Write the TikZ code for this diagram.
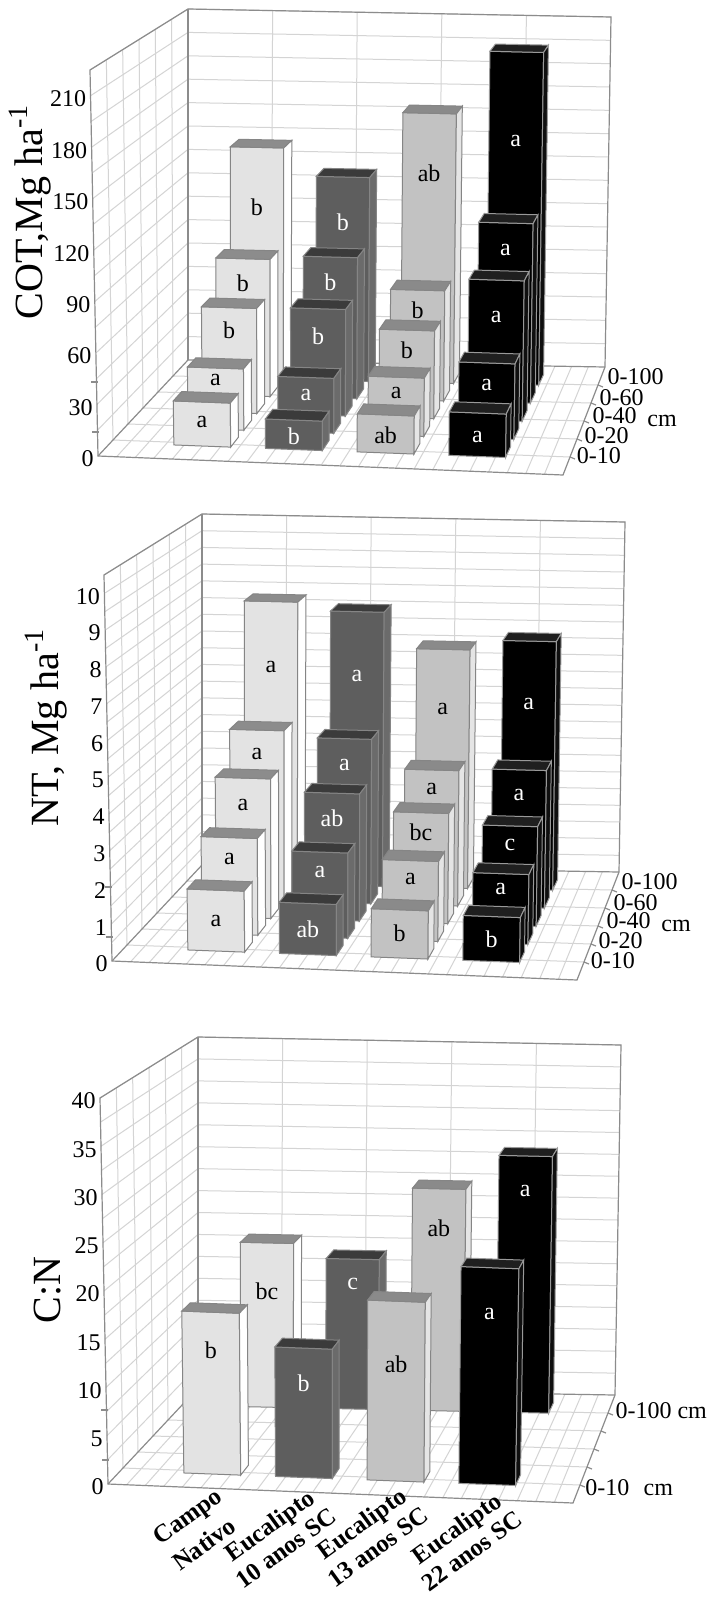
\documentclass[tikz,border=0pt]{standalone}
\usepackage{fontspec}
\setmainfont{Liberation Serif}
% box coordinates: u = across, v = depth, w = value (scaled by \vmax)
\makeatletter
\def\bx@split#1/#2/#3\@nil{\def\bx@u{#1}\def\bx@v{#2}\def\bx@w{#3}}
\tikzdeclarecoordinatesystem{bx}{%
  \bx@split#1\@nil
  \pgfmathsetmacro\bx@U{\bx@u}%
  \pgfmathsetmacro\bx@V{\bx@v}%
  \pgfmathsetmacro\bx@W{(\bx@w)/\vmax}%
  \pgfmathsetmacro\bx@X{(1-\bx@W)*((1-\bx@V)*(98+465*\bx@U)+\bx@V*(188+417*\bx@U))+\bx@W*((1-\bx@V)*(90+481*\bx@U)+\bx@V*(188+423*\bx@U))}%
  \pgfmathsetmacro\bx@Y{(1-\bx@W)*((1-\bx@V)*(456+19*\bx@U)+\bx@V*(360+7*\bx@U))+\bx@W*((1-\bx@V)*(70+20*\bx@U)+\bx@V*(9+8*\bx@U))}%
  \pgfpointxy{\bx@X}{\bx@Y}%
}
\makeatother
\tikzset{
  grid line/.style={draw=black!17, line width=0.5pt},
  frame line/.style={draw=black!45, line width=0.6pt},
  bar edge/.style={draw=black!48, line width=0.5pt},
  cn front/.style={fill=black!11, bar edge},
  cn top/.style={fill=black!45, bar edge},
  cn side/.style={fill=white, bar edge},
  cn text/.style={bar text},
  ea front/.style={fill=black!63, bar edge},
  ea top/.style={fill=black!77, bar edge},
  ea side/.style={fill=black!58, bar edge},
  ea text/.style={bar text, text=white},
  eb front/.style={fill=black!24, bar edge},
  eb top/.style={fill=black!46, bar edge},
  eb side/.style={fill=black!10, bar edge},
  eb text/.style={bar text},
  ec front/.style={fill=black, draw=black!40, line width=0.5pt},
  ec top/.style={fill=black!88, draw=black!40, line width=0.5pt},
  ec side/.style={fill=black!94, draw=black!40, line width=0.5pt},
  ec text/.style={bar text, text=white},
  bar text/.style={font=\fontsize{12}{12}\selectfont, inner sep=0pt},
  ticklab/.style={font=\fontsize{12}{12}\selectfont, anchor=east, xshift=-2pt, yshift=-1.5pt, inner sep=0pt},
  depthlab/.style={font=\fontsize{12}{12}\selectfont, anchor=west, xshift=3pt, inner sep=0pt},
  ylab/.style={font=\fontsize{20}{24}\selectfont, rotate=90, inner sep=0pt},
  catlab/.style={font=\bfseries\fontsize{12.5}{14}\selectfont, rotate=36, inner sep=0pt},
}
\def\bw{0.062}
\def\bd{0.1}
\newcount\barno
% \drawbar{u}{v}{value}{series}{letter}{letter height}
\newcommand\drawbar[6]{%
  \global\advance\barno by 1
  \pgfmathsetmacro\ul{#1-\bw}%
  \pgfmathsetmacro\ur{#1+\bw}%
  \pgfmathsetmacro\vb{#2+\bd}%
  \filldraw[#4 front] (bx cs:\ul/#2/0) -- (bx cs:\ur/#2/0) -- (bx cs:\ur/#2/#3) -- (bx cs:\ul/#2/#3) -- cycle;
  \filldraw[#4 top] (bx cs:\ul/#2/#3) -- (bx cs:\ur/#2/#3) -- (bx cs:\ur/\vb/#3) -- (bx cs:\ul/\vb/#3) -- cycle;
  \filldraw[#4 side] (bx cs:\ur/#2/0) -- (bx cs:\ur/\vb/0) -- (bx cs:\ur/\vb/#3) -- (bx cs:\ur/#2/#3) -- cycle;
  \node[#4 text] (bar\the\barno) at (bx cs:#1/#2/#6) {#5};
}
% walls, floor and grid of one chart, #1 = number of value steps
\newcommand\chartframe[1]{%
  \foreach \k in {1,...,#1} {
    \pgfmathsetmacro\g{\k*\vmax/#1}
    \draw[grid line] (bx cs:0/0/\g) -- (bx cs:0/1/\g) -- (bx cs:1/1/\g);
  }
  \foreach \k in {1,...,5} {
    \pgfmathsetmacro\vv{\k/6}
    \draw[grid line] (bx cs:0/\vv/\vmax) -- (bx cs:0/\vv/0) -- (bx cs:1/\vv/0);
    \draw[frame line] (bx cs:1/\vv/0) -- ++(5,2);
  }
  \foreach \k in {1,...,4} {
    \pgfmathsetmacro\uu{\k/5}
    \draw[grid line] (bx cs:\uu/1/0) -- (bx cs:\uu/1/\vmax);
  }
  \foreach \k in {1,...,24} {
    \pgfmathsetmacro\uu{\k/25}
    \draw[grid line] (bx cs:\uu/0/0) -- (bx cs:\uu/1/0);
  }
  \draw[frame line] (bx cs:1/0/0) -- (bx cs:0/0/0) -- (bx cs:0/0/\vmax) -- (bx cs:0/1/\vmax)
    -- (bx cs:1/1/\vmax) -- (bx cs:1/1/0) -- cycle;
  \draw[frame line] (bx cs:0/0/0) -- (bx cs:0/1/0) -- (bx cs:1/1/0);
  \draw[frame line] (bx cs:0/1/0) -- (bx cs:0/1/\vmax);
  \draw[frame line] (92,432) -- (99,432) (91,382) -- (98,382);
}
\begin{document}
\begin{tikzpicture}[x=0.5pt,y=-0.5pt]
\fill[white] (0,0) rectangle (710,1600);
\useasboundingbox (0,0) rectangle (710,1600);

% ---- COT ----
\begin{scope}
\def\vmax{225}
\chartframe{15}
\foreach \t in {0,30,...,210} \node[ticklab] (cot\t) at (bx cs:0/0/\t) {\t};
\node[ylab] (cotlab) at (30,212) {COT,Mg ha\textsuperscript{-1}};
\node[depthlab] (cotd1) at (bx cs:1/0.18/0) {0-10};
\node[depthlab] (cotd2) at (bx cs:1/0.36/0) {0-20};
\node[depthlab] (cotd3) at (bx cs:1/0.55/0) {0-40};
\node[depthlab] (cotd4) at (bx cs:1/0.72/0) {0-60};
\node[depthlab] (cotd5) at (bx cs:1/0.91/0) {0-100};
\node[depthlab, xshift=-3pt] (cotcm) at (647,421) {cm};
\drawbar{0.2}{0.82}{146}{cn}{b}{108}
\drawbar{0.4}{0.82}{128.6}{ea}{b}{100}
\drawbar{0.6}{0.82}{170}{eb}{ab}{132}
\drawbar{0.8}{0.82}{210}{ec}{a}{154}
\drawbar{0.2}{0.65}{85}{cn}{b}{70}
\drawbar{0.4}{0.65}{87.5}{ea}{b}{72}
\drawbar{0.6}{0.65}{68.4}{eb}{b}{56}
\drawbar{0.8}{0.65}{111.5}{ec}{a}{95}
\drawbar{0.2}{0.48}{64}{cn}{b}{50}
\drawbar{0.4}{0.48}{65}{ea}{b}{48}
\drawbar{0.6}{0.48}{53.6}{eb}{b}{41}
\drawbar{0.8}{0.48}{85.8}{ec}{a}{63}
\drawbar{0.2}{0.31}{36.8}{cn}{a}{29.6}
\drawbar{0.4}{0.31}{33}{ea}{a}{22.5}
\drawbar{0.6}{0.31}{35}{eb}{a}{25.5}
\drawbar{0.8}{0.31}{45.4}{ec}{a}{32}
\drawbar{0.2}{0.14}{26}{cn}{a}{14}
\drawbar{0.4}{0.14}{17.4}{ea}{b}{8}
\drawbar{0.6}{0.14}{22.5}{eb}{ab}{10.6}
\drawbar{0.8}{0.14}{25.7}{ec}{a}{11.5}
\end{scope}

% ---- NT ----
\begin{scope}[shift={(14,505)}]
\def\vmax{10.5}
\chartframe{21}
\foreach \t in {0,...,10} \node[ticklab] (nt\t) at (bx cs:0/0/\t) {\t};
\node[ylab] (ntlab) at (32,222) {NT, Mg ha\textsuperscript{-1}};
\node[depthlab] (ntd1) at (bx cs:1/0.18/0) {0-10};
\node[depthlab] (ntd2) at (bx cs:1/0.36/0) {0-20};
\node[depthlab] (ntd3) at (bx cs:1/0.55/0) {0-40};
\node[depthlab] (ntd4) at (bx cs:1/0.72/0) {0-60};
\node[depthlab] (ntd5) at (bx cs:1/0.91/0) {0-100};
\node[depthlab, xshift=-3pt] (ntcm) at (647,421) {cm};
\drawbar{0.2}{0.82}{8.31}{cn}{a}{6.38}
\drawbar{0.4}{0.82}{8.07}{ea}{a}{6.18}
\drawbar{0.6}{0.82}{7.02}{eb}{a}{5.27}
\drawbar{0.8}{0.82}{7.32}{ec}{a}{5.46}
\drawbar{0.2}{0.65}{4.94}{cn}{a}{4.26}
\drawbar{0.4}{0.65}{4.76}{ea}{a}{4.01}
\drawbar{0.6}{0.65}{3.92}{eb}{a}{3.37}
\drawbar{0.8}{0.65}{3.99}{ec}{a}{3.27}
\drawbar{0.2}{0.48}{3.97}{cn}{a}{3.2}
\drawbar{0.4}{0.48}{3.62}{ea}{ab}{2.89}
\drawbar{0.6}{0.48}{3.14}{eb}{bc}{2.58}
\drawbar{0.8}{0.48}{2.84}{ec}{c}{2.3}
\drawbar{0.2}{0.31}{2.71}{cn}{a}{2.11}
\drawbar{0.4}{0.31}{2.39}{ea}{a}{1.83}
\drawbar{0.6}{0.31}{2.24}{eb}{a}{1.72}
\drawbar{0.8}{0.31}{1.96}{ec}{a}{1.54}
\drawbar{0.2}{0.14}{1.68}{cn}{a}{0.84}
\drawbar{0.4}{0.14}{1.41}{ea}{ab}{0.7}
\drawbar{0.6}{0.14}{1.33}{eb}{b}{0.67}
\drawbar{0.8}{0.14}{1.24}{ec}{b}{0.62}
\end{scope}

% ---- C:N ----
\begin{scope}[shift={(10,1028)}]
\def\vmax{40}
\chartframe{16}
\foreach \t in {0,5,...,40} \node[ticklab] (cn\t) at (bx cs:0/0/\t) {\t};
\node[ylab] (cnlab) at (38,262) {C:N};
\node[depthlab] (cnd1) at (bx cs:1/0.14/0) {0-10\hspace{0.6em}cm};
\node[depthlab] (cnd2) at (bx cs:1/0.86/0) {0-100 cm};
\drawbar{0.2}{0.82}{18.4}{cn}{bc}{13}
\drawbar{0.4}{0.82}{16.8}{ea}{c}{14}
\drawbar{0.6}{0.82}{24.9}{eb}{ab}{20.5}
\drawbar{0.8}{0.82}{28.8}{ec}{a}{24.9}
\drawbar{0.2}{0.14}{17}{cn}{b}{13}
\drawbar{0.4}{0.14}{13.6}{ea}{b}{9.9}
\drawbar{0.6}{0.14}{18.9}{eb}{ab}{12.3}
\drawbar{0.8}{0.14}{22.8}{ec}{a}{17.9}
% category names, one node per line
\node[catlab] (campo1) at (179,490) {Campo};
\node[catlab] (campo2) at (194,516) {Nativo};
\node[catlab] (euc10a) at (261,499) {Eucalipto};
\node[catlab] (euc10b) at (276,520) {10 anos SC};
\node[catlab] (euc13a) at (353,497) {Eucalipto};
\node[catlab] (euc13b) at (368,519) {13 anos SC};
\node[catlab] (euc22a) at (448,502) {Eucalipto};
\node[catlab] (euc22b) at (462,523) {22 anos SC};
\end{scope}
\end{tikzpicture}
\end{document}
